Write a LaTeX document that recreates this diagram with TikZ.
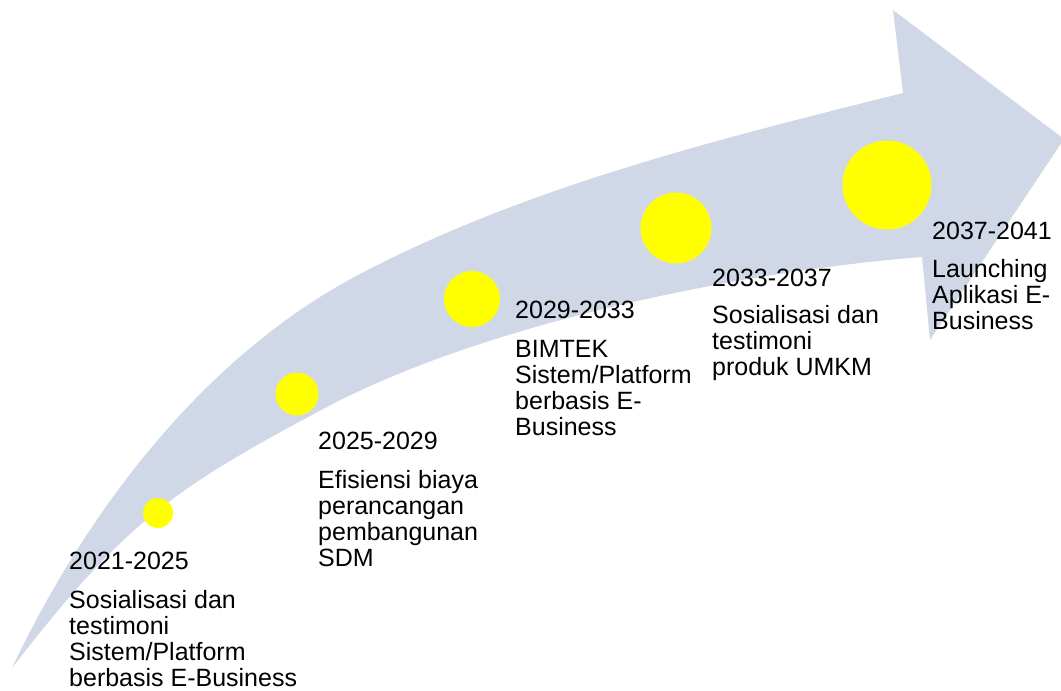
\documentclass[tikz,border=0pt]{standalone}
\usepackage{fontspec}
\setmainfont{Liberation Sans}
\usetikzlibrary{positioning}
\definecolor{arrowblue}{HTML}{D0D8E8}
\definecolor{dotyellow}{HTML}{FFFF00}

\begin{document}
\begin{tikzpicture}[x=1pt, y=-1pt,
  yellowdot/.style={circle, inner sep=0pt, fill=dotyellow},
  yearlbl/.style={anchor=base west, inner sep=0pt, font=\fontsize{25}{26}\selectfont},
  desclbl/.style={anchor=base west, inner sep=0pt, align=left, font=\fontsize{25}{26}\selectfont}]
%frame
  \useasboundingbox (0,0) rectangle (1061,691);
  \clip (0,0) rectangle (1061,691);

%big arrow
  \fill[arrowblue] (12,668) .. controls (87,510) and (205,355) .. (360,274)
    .. controls (528,186) and (719,139) .. (903,93)
    -- (893,10) -- (1064,139) -- (930,340) -- (922,257)
    .. controls (743,271) and (486,323) .. (327,407)
    .. controls (168,491) and (122,526) .. (12,668) -- cycle;

%dots
  \node[yellowdot, minimum size=30pt] (c1) at (158,513) {};
  \node[yellowdot, minimum size=43pt] (c2) at (297,394) {};
  \node[yellowdot, minimum size=56pt] (c3) at (472,299) {};
  \node[yellowdot, minimum size=71pt] (c4) at (676,228) {};
  \node[yellowdot, minimum size=89pt] (c5) at (887,185) {};

%years
  \node[yearlbl] (y1) at (69,569) {2021-2025};
  \node[yearlbl] (y2) at (318,449) {2025-2029};
  \node[yearlbl] (y3) at (515,318) {2029-2033};
  \node[yearlbl] (y4) at (712,286) {2033-2037};
  \node[yearlbl] (y5) at (932,239) {2037-2041};

%texts (base = last line)
  \node[desclbl] (d1) at (69,686) {Sosialisasi dan\\testimoni\\Sistem/Platform\\berbasis E-Business};
  \node[desclbl] (d2) at (318,566) {Efisiensi biaya\\perancangan\\pembangunan\\SDM};
  \node[desclbl] (d3) at (515,435) {BIMTEK\\Sistem/Platform\\berbasis E-\\Business};
  \node[desclbl] (d4) at (712,375) {Sosialisasi dan\\testimoni\\produk UMKM};
  \node[desclbl] (d5) at (932,329) {Launching\\Aplikasi E-\\Business};
\end{tikzpicture}
\end{document}
